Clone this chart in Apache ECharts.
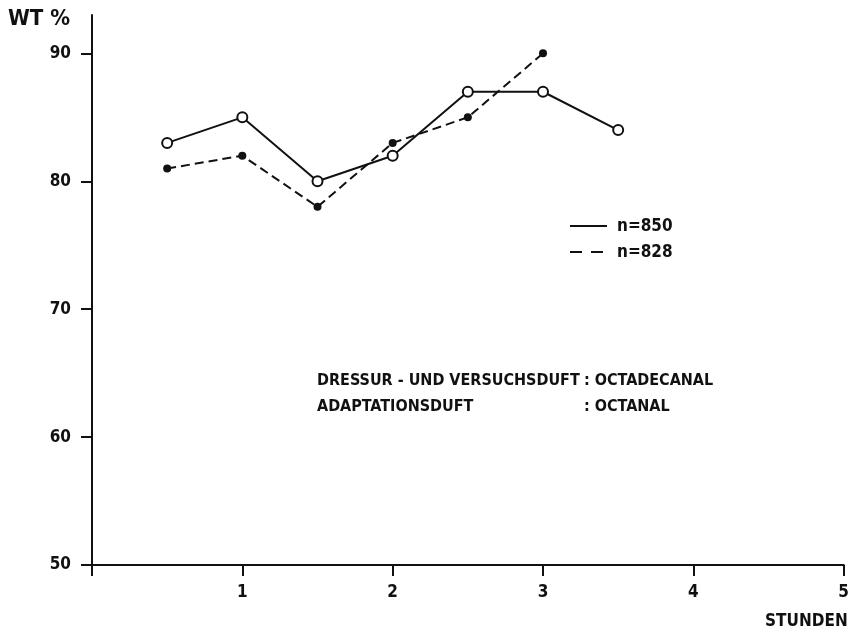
<!DOCTYPE html>
<html>
<head>
<meta charset="utf-8">
<script src="https://cdn.jsdelivr.net/npm/echarts@6/dist/echarts.min.js"></script>
<style>html,body{margin:0;padding:0;background:#fff}#c{width:852px;height:635px}</style>
</head>
<body>
<div id="c"></div>
<script>
const hours850 = [0.5, 1, 1.5, 2, 2.5, 3, 3.5];
const wt850 = [83, 85, 80, 82, 87, 87, 84];
const hours828 = [0.5, 1, 1.5, 2, 2.5, 3];
const wt828 = [81, 82, 78, 83, 85, 90];
const yTicks = [50, 60, 70, 80, 90];
const xTicks = [0, 1, 2, 3, 4, 5];
const xLabels = ['', '1', '2', '3', '4', '5'];
const legendLabels = ['n=850', 'n=828'];
const noteLines = [['DRESSUR - UND VERSUCHSDUFT', ': OCTADECANAL'], ['ADAPTATIONSDUFT', ': OCTANAL']];

const FONT = "'Liberation Sans Narrow','DejaVu Sans Condensed','Liberation Sans',sans-serif";
const INK = '#111';

const chart = echarts.init(document.getElementById('c'), null, {renderer: 'canvas'});
const txt = (x, y, s, size, align) => ({
  type: 'text', left: x, top: y,
  style: {text: s, fill: INK, font: 'bold ' + size + 'px ' + FONT, textAlign: align || 'left', textVerticalAlign: 'middle'}
});

chart.setOption({
  backgroundColor: '#fff',
  animation: false,
  grid: {left: 92, right: 7, top: 15, bottom: 70, containLabel: false},
  xAxis: {
    type: 'value', min: 0, max: 5, interval: 1,
    name: 'STUNDEN', nameLocation: 'end', nameGap: 4,
    nameTextStyle: {color: INK, fontFamily: FONT, fontWeight: 'bold', fontSize: 17, align: 'right', verticalAlign: 'top', padding: [48, 0, 0, 0]},
    axisLine: {lineStyle: {color: INK, width: 2}},
    axisTick: {show: true, length: 11, inside: false, lineStyle: {color: INK, width: 2}, customValues: xTicks},
    axisLabel: {color: INK, fontFamily: FONT, fontWeight: 'bold', fontSize: 17, margin: 19,
      customValues: xTicks, formatter: v => xLabels[xTicks.indexOf(v)] || ''},
    splitLine: {show: false}
  },
  yAxis: {
    type: 'value', min: 50, max: 93,
    name: 'WT %', nameLocation: 'end', nameGap: -4,
    nameTextStyle: {color: INK, fontFamily: FONT, fontWeight: 'bold', fontSize: 22, align: 'right', verticalAlign: 'middle', padding: [0, 22, 0, 0]},
    axisLine: {show: true, lineStyle: {color: INK, width: 2}},
    axisTick: {show: true, length: 11, lineStyle: {color: INK, width: 2}, customValues: yTicks},
    axisLabel: {color: INK, fontFamily: FONT, fontWeight: 'bold', fontSize: 17, margin: 21, customValues: yTicks},
    splitLine: {show: false}
  },
  series: [
    {
      name: legendLabels[1], type: 'line', z: 2,
      data: hours828.map((h, i) => [h, wt828[i]]),
      symbol: 'circle', symbolSize: 8,
      itemStyle: {color: INK, borderWidth: 0},
      lineStyle: {color: INK, width: 2, type: [9, 5]}
    },
    {
      name: legendLabels[0], type: 'line', z: 3,
      data: hours850.map((h, i) => [h, wt850[i]]),
      symbol: 'circle', symbolSize: 10,
      itemStyle: {color: '#fff', borderColor: INK, borderWidth: 2},
      lineStyle: {color: INK, width: 2}
    }
  ],
  graphic: [
    {type: 'line', shape: {x1: 570, y1: 226, x2: 607, y2: 226}, style: {stroke: INK, lineWidth: 2}},
    {type: 'line', shape: {x1: 570, y1: 252, x2: 605, y2: 252}, style: {stroke: INK, lineWidth: 2, lineDash: [12, 9]}},
    txt(617, 218, legendLabels[0], 17),
    txt(617, 244, legendLabels[1], 17),
    txt(317, 373, noteLines[0][0], 16),
    txt(584, 373, noteLines[0][1], 16),
    txt(317, 399, noteLines[1][0], 16),
    txt(584, 399, noteLines[1][1], 16)
  ]
});
</script>
</body>
</html>
